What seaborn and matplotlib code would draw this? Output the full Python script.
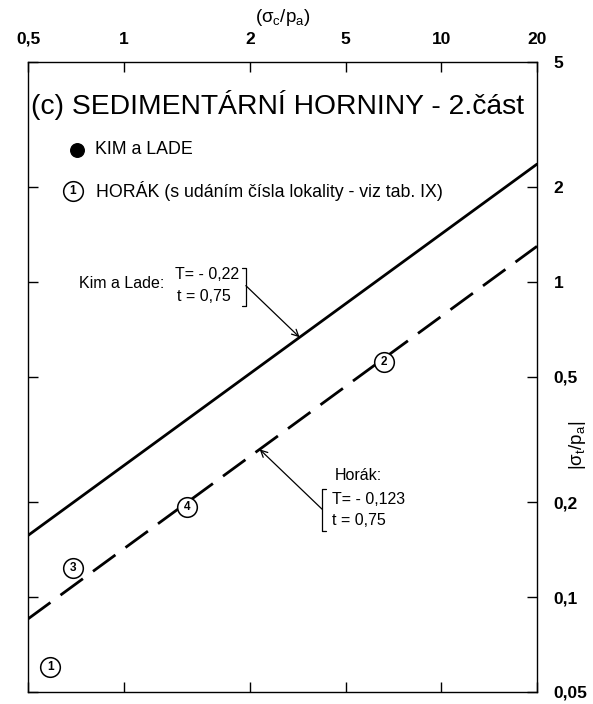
import numpy as np
import pandas as pd
import matplotlib
matplotlib.use("Agg")
import matplotlib.pyplot as plt
import seaborn as sns

# ---- data ----
line_x = [0.5, 20.0]
kim_y = [0.157, 2.37]          # Kim a Lade (solid)
horak_y = [0.0853, 1.30]       # Horák (dashed)

pt_labels = ["1", "2", "3", "4"]
pt_x = [0.587, 6.58, 0.693, 1.58]
pt_y = [0.060, 0.556, 0.124, 0.194]

xtick_vals = [0.5, 1, 2.5, 5, 10, 20]
xtick_labels = ["0,5", "1", "2", "5", "10", "20"]
ytick_vals = [0.05, 0.1, 0.2, 0.5, 1, 2, 5]
ytick_labels = ["0,05", "0,1", "0,2", "0,5", "1", "2", "5"]

title = "(c) SEDIMENTÁRNÍ HORNINY - 2.část"
legend_kim = "KIM a LADE"
legend_horak = "HORÁK (s udáním čísla lokality - viz tab. IX)"
kim_ann = ["Kim a Lade:", "T= - 0,22", "t = 0,75"]
horak_ann = ["Horák:", "T= - 0,123", "t = 0,75"]
kim_arrow_x = 3.58
horak_arrow_x = 2.68

sns.set_theme(style="white")
plt.rcParams["font.family"] = ["Liberation Sans", "DejaVu Sans"]
plt.rcParams["text.color"] = "black"
plt.rcParams["mathtext.fontset"] = "custom"
plt.rcParams["mathtext.rm"] = "Liberation Sans"
plt.rcParams["mathtext.it"] = "Liberation Sans"
plt.rcParams["lines.scale_dashes"] = False

fig = plt.figure(figsize=(5.93, 7.04), dpi=100)
ax = fig.add_axes([28 / 593, 1 - 692 / 704, 509 / 593, 630 / 704])

lines_df = pd.DataFrame({"x": line_x + line_x,
                         "y": kim_y + horak_y,
                         "who": ["kim", "kim", "horak", "horak"]})
sns.lineplot(data=lines_df[lines_df.who == "kim"], x="x", y="y", ax=ax,
             color="black", lw=2.0, legend=False)
sns.lineplot(data=lines_df[lines_df.who == "horak"], x="x", y="y", ax=ax,
             color="black", lw=2.0, legend=False, linestyle=(0, (20, 9)))

pts = pd.DataFrame({"x": pt_x, "y": pt_y, "lab": pt_labels})
sns.scatterplot(data=pts, x="x", y="y", ax=ax, s=200, color="white",
                edgecolor="black", linewidth=1.1, zorder=5, legend=False)
for xv, yv, lab in zip(pt_x, pt_y, pt_labels):
    ax.text(xv, yv, lab, ha="center", va="center", fontsize=8.5,
            fontweight="bold", zorder=6)

ax.set_xscale("log")
ax.set_yscale("log")
ax.set_xlim(0.5, 20)
ax.set_ylim(0.05, 5)
ax.set_xlabel("")
ax.set_ylabel("")

ax.xaxis.set_major_locator(matplotlib.ticker.FixedLocator(xtick_vals))
ax.xaxis.set_minor_locator(matplotlib.ticker.NullLocator())
ax.set_xticklabels(xtick_labels)
ax.yaxis.set_major_locator(matplotlib.ticker.FixedLocator(ytick_vals))
ax.yaxis.set_minor_locator(matplotlib.ticker.NullLocator())
ax.set_yticklabels(ytick_labels)

ax.tick_params(axis="x", which="major", direction="in", length=7, width=1,
               top=True, bottom=True, labeltop=True, labelbottom=False,
               pad=11, labelsize=12.5, colors="black")
ax.tick_params(axis="y", which="major", direction="in", length=7, width=1,
               left=True, right=True, labelleft=False, labelright=True,
               pad=12, labelsize=12.5, colors="black")
for lab in ax.get_xticklabels() + ax.get_yticklabels():
    lab.set_fontweight("bold")
for sp in ax.spines.values():
    sp.set_visible(True)
    sp.set_color("black")
    sp.set_linewidth(1.0)

# axis titles
fig.text(283 / 593, 1 - 18 / 704, r"$(\sigma_{c}/p_{a})$", ha="center",
         va="center", fontsize=13.5)
fig.text(577 / 593, 1 - 445 / 704, r"$|\sigma_{t}/p_{a}|$", ha="center",
         va="center", fontsize=13.5, rotation=90)

# title
ax.text(0.491, 0.932, title, transform=ax.transAxes, ha="center",
        va="center", fontsize=20.3)

# legend (manual)
ax.scatter([0.0963], [0.861], s=95, color="black", transform=ax.transAxes,
           zorder=5)
ax.text(0.1316, 0.861, legend_kim, transform=ax.transAxes, ha="left",
        va="center", fontsize=12.8)
ax.scatter([0.0884], [0.795], s=200, color="white", edgecolor="black",
           linewidth=1.1, transform=ax.transAxes, zorder=5)
ax.text(0.0884, 0.795, "1", transform=ax.transAxes, ha="center",
        va="center", fontsize=8.5, fontweight="bold", zorder=6)
ax.text(0.1336, 0.795, legend_horak, transform=ax.transAxes, ha="left",
        va="center", fontsize=12.8)


def on_line(xq, ys):
    lx = np.log10(line_x)
    ly = np.log10(ys)
    return 10 ** np.interp(np.log10(xq), lx, ly)


# Kim a Lade annotation
ax.text(0.100, 0.649, kim_ann[0], transform=ax.transAxes, ha="left",
        va="center", fontsize=11.5)
ax.text(0.289, 0.662, kim_ann[1], transform=ax.transAxes, ha="left",
        va="center", fontsize=11.5)
ax.text(0.293, 0.628, kim_ann[2], transform=ax.transAxes, ha="left",
        va="center", fontsize=11.5)
bx = 0.428
ax.plot([bx - 0.008, bx, bx, bx - 0.008], [0.673, 0.673, 0.613, 0.613],
        color="black", lw=0.9, transform=ax.transAxes)
ax.annotate("", xy=(kim_arrow_x, on_line(kim_arrow_x, kim_y)),
            xycoords="data", xytext=(bx, 0.645), textcoords="axes fraction",
            arrowprops=dict(arrowstyle="->", color="black", lw=0.9,
                            shrinkA=0, shrinkB=0, mutation_scale=12))

# Horák annotation
ax.text(0.603, 0.343, horak_ann[0], transform=ax.transAxes, ha="left",
        va="center", fontsize=11.5)
ax.text(0.597, 0.306, horak_ann[1], transform=ax.transAxes, ha="left",
        va="center", fontsize=11.5)
ax.text(0.597, 0.272, horak_ann[2], transform=ax.transAxes, ha="left",
        va="center", fontsize=11.5)
hx = 0.578
ax.plot([hx + 0.008, hx, hx, hx + 0.008], [0.323, 0.323, 0.255, 0.255],
        color="black", lw=0.9, transform=ax.transAxes)
ax.annotate("", xy=(horak_arrow_x, on_line(horak_arrow_x, horak_y)),
            xycoords="data", xytext=(hx, 0.29), textcoords="axes fraction",
            arrowprops=dict(arrowstyle="->", color="black", lw=0.9,
                            shrinkA=0, shrinkB=0, mutation_scale=12))

fig.savefig("out.png", dpi=100)
